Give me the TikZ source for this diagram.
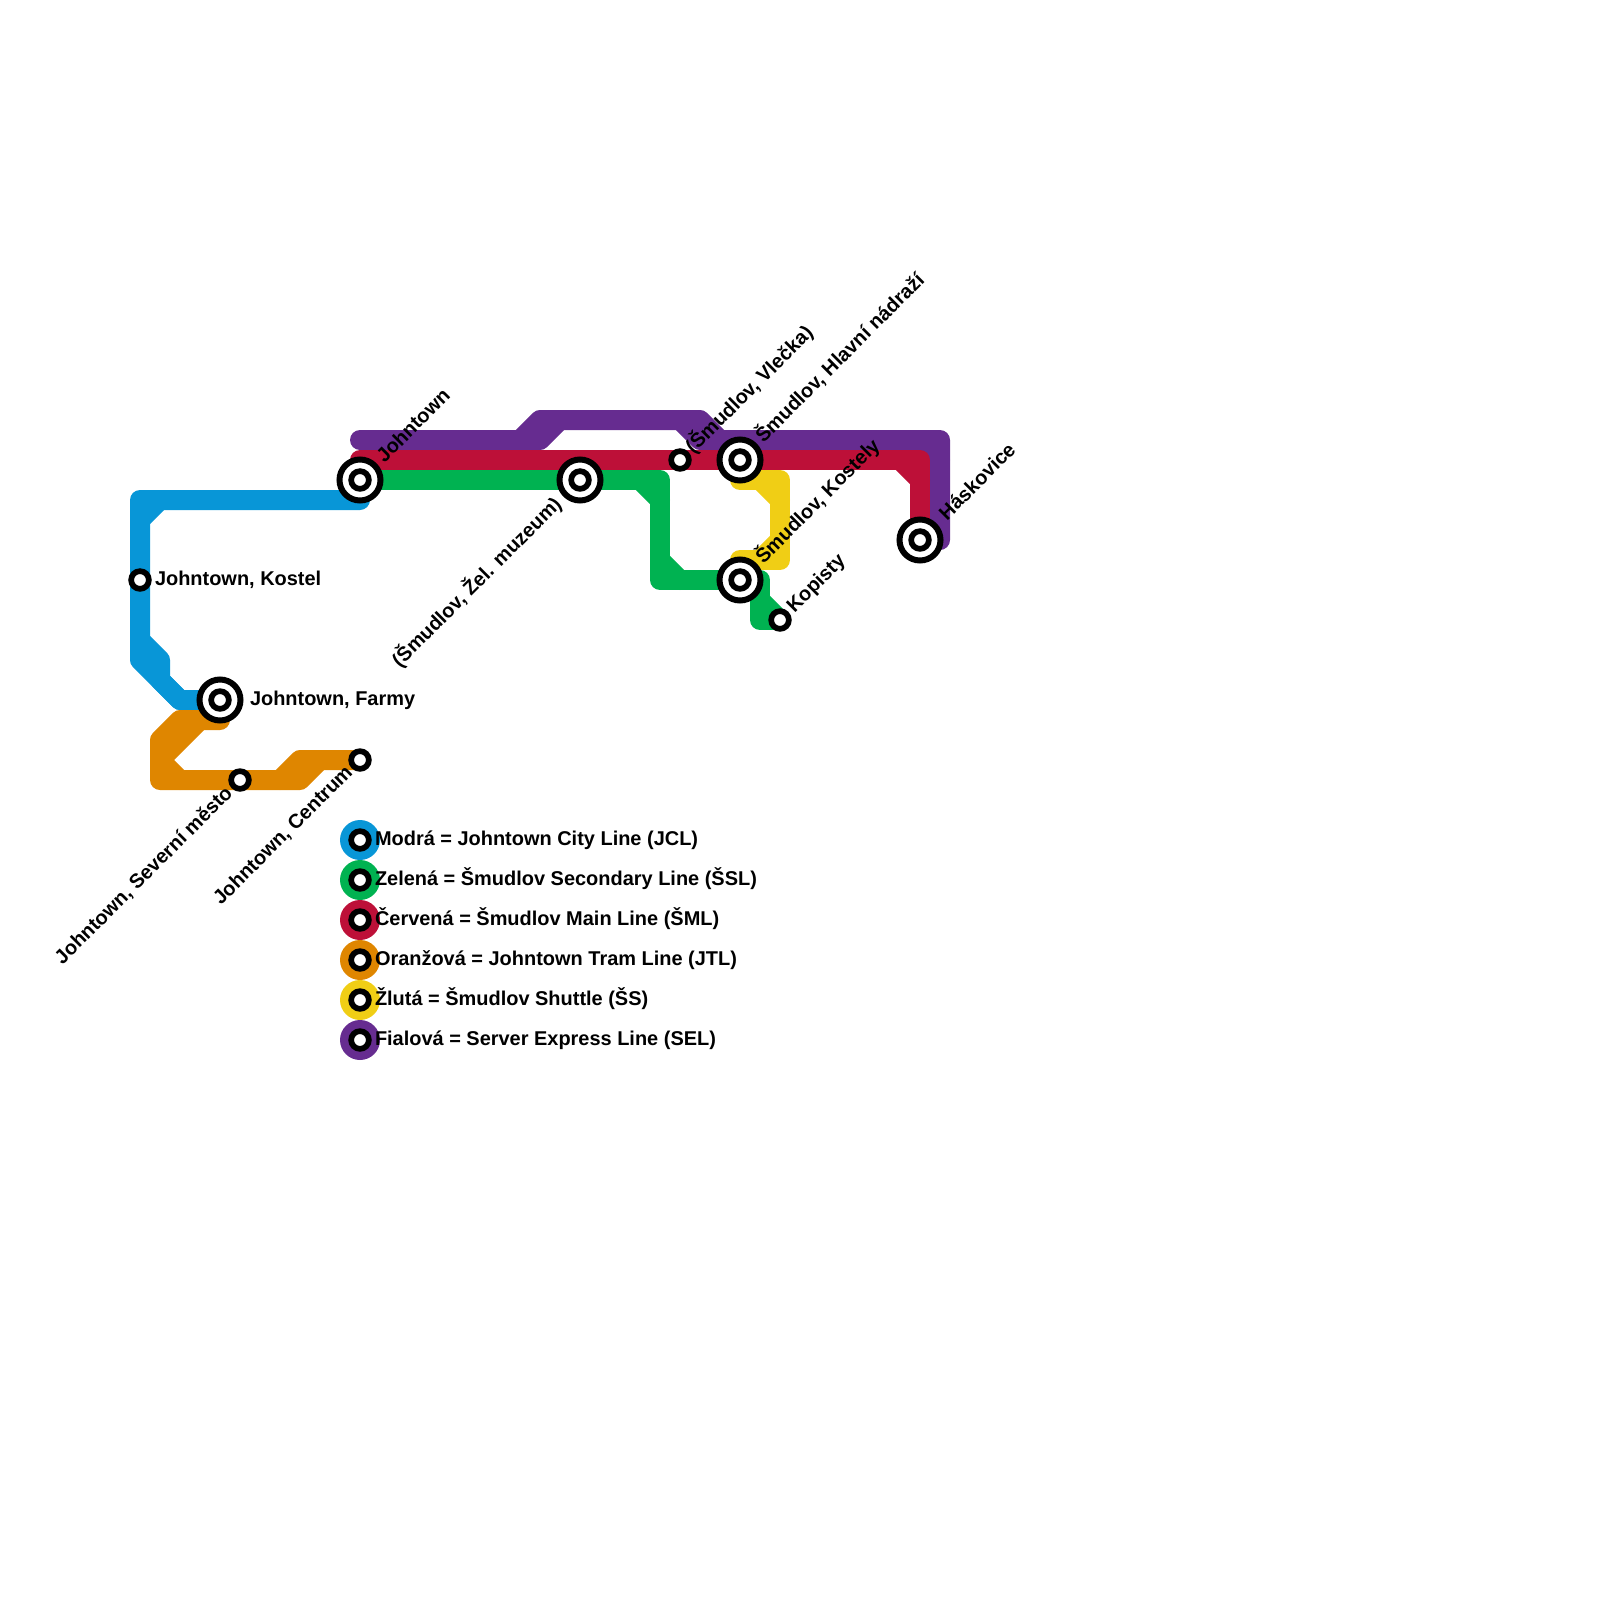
\documentclass[tikz,border=0pt]{standalone}
\usepackage{fontspec}
\setmainfont{Liberation Sans}
\usetikzlibrary{backgrounds}
\definecolor{cblue}{HTML}{0896D7}
\definecolor{cgreen}{HTML}{00B251}
\definecolor{cred}{HTML}{BD1038}
\definecolor{corange}{HTML}{DF8600}
\definecolor{cyellow}{HTML}{F0CE15}
\definecolor{cpurple}{HTML}{662C90}
\tikzset{
  metro/.style={line width=20pt,line cap=round,line join=round},
  smallstn/.style={circle,draw=black,fill=white,line width=5.7pt,minimum size=17.7pt,inner sep=0pt,outer sep=0pt},
  bigstn/.style={circle,draw=black,fill=white,line width=6pt,minimum size=41pt,inner sep=0pt,outer sep=0pt,
    path picture={\draw[black,line width=5.7pt] (path picture bounding box.center) circle (8.85pt);}},
  swatch/.style={circle,minimum size=40pt,inner sep=0pt,outer sep=0pt},
  lbl/.style={font=\fontsize{19.95pt}{24pt}\selectfont\bfseries,text=black,inner sep=0pt,outer sep=0pt,text height=14pt,text depth=4pt},
  lblup/.style={lbl,rotate=45,anchor=west},
  lbldn/.style={lbl,rotate=45,anchor=east},
  lblr/.style={lbl,anchor=west}
}
\begin{document}
\begin{tikzpicture}[x=1pt,y=-1pt]
\useasboundingbox (0,0) rectangle (1600,1600);
% stations
\node[bigstn] (jt) at (360,480) {};
\node[bigstn] (muz) at (580,480) {};
\node[smallstn] (vle) at (680,460) {};
\node[bigstn] (hln) at (740,460) {};
\node[bigstn] (kos) at (740,580) {};
\node[smallstn] (kop) at (780,620) {};
\node[bigstn] (has) at (920,540) {};
\node[smallstn] (jko) at (140,580) {};
\node[bigstn] (far) at (220,700) {};
\node[smallstn] (sev) at (240,780) {};
\node[smallstn] (cen) at (360,760) {};
% free line ends and bends
\coordinate (blueend) at (360,500);
\coordinate (redstart) at (360,460);
\coordinate (purstart) at (360,440);
\coordinate (purend) at (940,540);
\coordinate (orgend) at (220,720);
\coordinate (ylwa) at (740,480);
\coordinate (ylwb) at (740,560);
\begin{scope}[on background layer]
  % blue
  \draw[metro,cblue] (blueend) -- (140,500) -- (jko.center) -- (140,660) -- (180,700) -- (far.center);
  \draw[metro,cblue] (140,520) -- (160,500);
  \draw[metro,cblue] (140,640) -- (160,660) -- (160,680) -- (180,700);
  % purple
  \draw[metro,cpurple] (purstart) -- (520,440) -- (540,420) -- (700,420) -- (720,440) -- (940,440) -- (purend);
  \draw[metro,cpurple] (520,440) -- (540,440) -- (560,420);
  \draw[metro,cpurple] (680,420) -- (700,440) -- (720,440);
  \draw[metro,cpurple] (920,440) -- (940,460);
  % red
  \draw[metro,cred] (redstart) -- (vle.center) -- (hln.center) -- (920,460) -- (has.center);
  \draw[metro,cred] (900,460) -- (920,480);
  % green
  \draw[metro,cgreen] (jt.center) -- (muz.center) -- (660,480) -- (660,580) -- (kos.center) -- (760,580) -- (760,620) -- (kop.center);
  \draw[metro,cgreen] (640,480) -- (660,500);
  \draw[metro,cgreen] (660,560) -- (680,580);
  \draw[metro,cgreen] (760,600) -- (kop.center);
  % orange
  \draw[metro,corange] (cen.center) -- (300,760) -- (280,780) -- (sev.center) -- (160,780) -- (160,740) -- (180,720) -- (orgend);
  \draw[metro,corange] (280,780) -- (300,780) -- (320,760);
  \draw[metro,corange] (160,760) -- (200,720);
  \draw[metro,corange] (160,760) -- (180,780);
  % yellow
  \draw[metro,cyellow] (ylwa) -- (780,480) -- (780,560) -- (ylwb);
  \draw[metro,cyellow] (760,480) -- (780,500);
  \draw[metro,cyellow] (760,560) -- (780,540);
\end{scope}
% labels
\node[lblr] (tjko) at (155,580.5) {Johntown, Kostel};
\node[lblr] (tfar) at (250,700.5) {Johntown, Farmy};
\node[lblup] (tjt) at (381,460) {Johntown};
\node[lblup] (tvle) at (690,451) {(Šmudlov, Vlečka)};
\node[lblup] (thln) at (760,440) {Šmudlov, Hlavní nádraží};
\node[lblup] (tkos) at (760,561) {Šmudlov, Kostely};
\node[lblup] (tkop) at (791,610) {Kopisty};
\node[lblup] (thas) at (943.5,517.5) {Háskovice};
\node[lbldn] (tmuz) at (559,502) {(Šmudlov, Žel. muzeum)};
\node[lbldn] (tsev) at (230,791) {Johntown, Severní město};
\node[lbldn] (tcen) at (350,770) {Johntown, Centrum};
% legend
\node[swatch,fill=cblue] (l1) at (360,840) {};
\node[swatch,fill=cgreen] (l2) at (360,880) {};
\node[swatch,fill=cred] (l3) at (360,920) {};
\node[swatch,fill=corange] (l4) at (360,960) {};
\node[swatch,fill=cyellow] (l5) at (360,1000) {};
\node[swatch,fill=cpurple] (l6) at (360,1040) {};
\node[smallstn] (s1) at (l1.center) {};
\node[smallstn] (s2) at (l2.center) {};
\node[smallstn] (s3) at (l3.center) {};
\node[smallstn] (s4) at (l4.center) {};
\node[smallstn] (s5) at (l5.center) {};
\node[smallstn] (s6) at (l6.center) {};
\node[lblr] (t1) at (375,840.5) {Modrá = Johntown City Line (JCL)};
\node[lblr] (t2) at (375,880.5) {Zelená = Šmudlov Secondary Line (ŠSL)};
\node[lblr] (t3) at (375,920.5) {Červená = Šmudlov Main Line (ŠML)};
\node[lblr] (t4) at (375,960.5) {Oranžová = Johntown Tram Line (JTL)};
\node[lblr] (t5) at (375,1000.5) {Žlutá = Šmudlov Shuttle (ŠS)};
\node[lblr] (t6) at (375,1040.5) {Fialová = Server Express Line (SEL)};
\end{tikzpicture}
\end{document}
